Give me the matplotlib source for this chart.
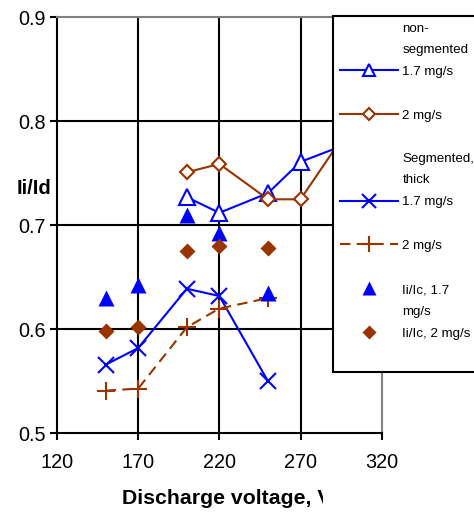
import matplotlib
matplotlib.use("Agg")
import matplotlib.pyplot as plt
from matplotlib.lines import Line2D
from matplotlib.transforms import Bbox, TransformedBbox

plt.rcParams['font.family'] = ['Liberation Sans', 'DejaVu Sans']

# ---- data ----
volt_ns = [200, 220, 250, 270, 300]
ns_17 = [0.727, 0.712, 0.731, 0.761, 0.779]
ns_2 = [0.751, 0.759, 0.725, 0.725, 0.794]
volt_seg = [150, 170, 200, 220, 250]
seg_17 = [0.566, 0.582, 0.639, 0.632, 0.550]
seg_2 = [0.541, 0.543, 0.602, 0.620, 0.630]
iic_17 = [0.630, 0.643, 0.710, 0.693, 0.635]
iic_2 = [0.598, 0.602, 0.675, 0.680, 0.678]
xticks = [120, 170, 220, 270, 320]
yticks = [0.5, 0.6, 0.7, 0.8, 0.9]
ytick_labels = ["0.5", "0.6", "0.7", "0.8", "0.9"]

BLUE = '#0000FF'
BROWN = '#993300'

fig = plt.figure(figsize=(4.74, 5.12), dpi=100)
ax = fig.add_axes([57/474, 1-433.3/512, (381.7-57)/474, (433.3-17.3)/512])
ax.set_xlim(xticks[0], xticks[-1])
ax.set_ylim(yticks[0], yticks[-1])
ax.set_xticks(xticks)
ax.set_yticks(yticks)
ax.set_yticklabels(ytick_labels)

for v in xticks[1:-1]:
    ax.axvline(v, color='black', lw=1.5, zorder=1)
for v in yticks[1:-1]:
    ax.axhline(v, color='black', lw=1.5, zorder=1)

for s in ['left', 'bottom']:
    ax.spines[s].set_color('black')
    ax.spines[s].set_linewidth(1.5)
for s in ['top', 'right']:
    ax.spines[s].set_color('#808080')
    ax.spines[s].set_linewidth(1.5)

ax.tick_params(direction='out', length=5, width=1.5, color='black', labelsize=14.3)
ax.tick_params(axis='x', pad=9)
ax.tick_params(axis='y', pad=3)
ax.xaxis.get_major_ticks()[-1].tick1line.set_color('#808080')

lw = 1.5
ax.plot(volt_ns, ns_17, color=BLUE, lw=lw, marker='^', ms=11, mfc='white',
        mec=BLUE, mew=1.5, zorder=3)
ax.plot(volt_ns, ns_2, color=BROWN, lw=lw, marker='D', ms=7, mfc='white',
        mec=BROWN, mew=1.5, zorder=3)
ax.plot(volt_seg, seg_17, color=BLUE, lw=lw, marker='x', ms=11, mew=1.5, zorder=3)
ax.plot(volt_seg, seg_2, color=BROWN, lw=lw, marker='+', ms=13, mew=1.5,
        dashes=(5, 3), gapcolor='white', zorder=3)
ax.plot(volt_seg, iic_17, color=BLUE, lw=0, marker='^', ms=12, mec='none', zorder=3)
ax.plot(volt_seg, iic_2, color=BROWN, lw=0, marker='D', ms=8, mec='none', zorder=3)

blank = Line2D([], [], linestyle='none')
h3 = Line2D([], [], color=BLUE, lw=lw, marker='x', ms=10, mew=1.5)
h4 = Line2D([], [], color=BROWN, lw=lw, marker='+', ms=12, mew=1.5, dashes=(5, 3))
h1 = Line2D([], [], color=BLUE, lw=lw, marker='^', ms=9, mfc='white', mec=BLUE, mew=1.5)
h2 = Line2D([], [], color=BROWN, lw=lw, marker='D', ms=6, mfc='white', mec=BROWN, mew=1.5)
h5 = Line2D([], [], color=BLUE, lw=0, marker='^', ms=10, mec='none')
h6 = Line2D([], [], color=BROWN, lw=0, marker='D', ms=7, mec='none')

handles = [blank, h1, blank, h2, blank, blank, h3, blank, h4, blank, h5, blank, h6, blank]
labels = ["non-\nsegmented", "1.7 mg/s", " ", "2 mg/s", " ", "Segmented,\nthick",
          "1.7 mg/s", " ", "2 mg/s", " ", "Ii/Ic, 1.7", "mg/s", "Ii/Ic, 2 mg/s", " "]

leg = fig.legend(handles, labels, loc='upper left',
                 bbox_to_anchor=(333/474, 1-15.7/512), bbox_transform=fig.transFigure,
                 borderaxespad=0, frameon=True, fancybox=False, edgecolor='black',
                 framealpha=1, handlelength=4.3, handletextpad=0.36, labelspacing=0.72,
                 borderpad=0.55, fontsize=9.6)
leg.get_frame().set_linewidth(1.5)
for t in leg.get_texts():
    t.set_linespacing(2.0)
leg.get_texts()[-1].set_fontsize(12)

fig.text(17/474, 1-188/512, "Ii/Id", fontweight='bold', fontsize=14.5, va='center', ha='left')
xl = fig.text(122/474, 1-498/512, "Discharge voltage, V", fontweight='bold', fontsize=15.3,
              va='center', ha='left')
xl.set_clip_box(TransformedBbox(Bbox([[0, 0], [323/474, 1]]), fig.transFigure))
xl.set_clip_on(True)

fig.savefig("out.png", dpi=100)
